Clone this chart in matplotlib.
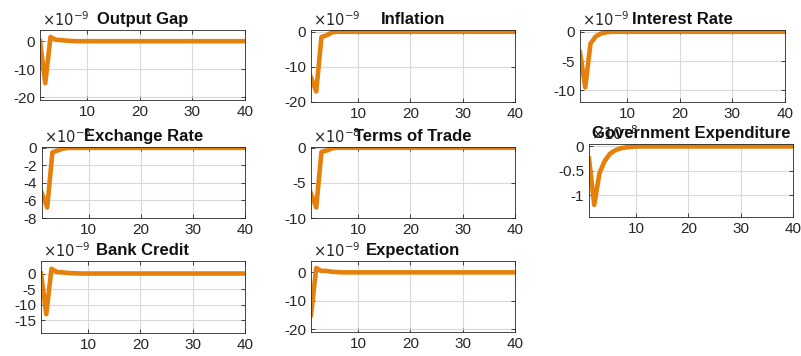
import numpy as np
import matplotlib.pyplot as plt

plt.rcParams['font.family'] = ['Liberation Sans', 'DejaVu Sans']
plt.rcParams['axes.unicode_minus'] = False

periods = np.arange(1, 41)

titles = ['Output Gap', 'Inflation', 'Interest Rate', 'Exchange Rate', 'Terms of Trade',
          'Government Expenditure', 'Bank Credit', 'Expectation']

# first periods of each response (in units of the exponent), rest are zero
output_gap = [0, -15, 1.5, 0.5, 0.4, 0.2, 0.1]
inflation = [-13, -17, -1.5, -1.0, -0.2]
interest_rate = [-3.5, -9.5, -2.0, -0.8, -0.3, -0.1]
exchange_rate = [-5.2, -6.8, -0.5, -0.3, -0.1]
terms_of_trade = [-6.5, -8.5, -0.6, -0.4, -0.1]
gov_expenditure = [-0.25, -1.2, -0.55, -0.3, -0.15, -0.08, -0.04, -0.02, -0.01]
bank_credit = [0, -13, 1.5, 0.5, 0.4, 0.2, 0.1, 0.05]
expectation = [-15, 1.5, 0.5, 0.5, 0.2, 0.1]

responses = [output_gap, inflation, interest_rate, exchange_rate, terms_of_trade,
             gov_expenditure, bank_credit, expectation]
exponents = [-9, -9, -9, -8, -8, -8, -9, -9]
ylims = [(-21, 4), (-20, 0.5), (-12, 0.3), (-8, 0.1), (-10, 0.1), (-1.45, 0.05), (-19, 4), (-21, 4)]
yticks = [[-20, -10, 0], [-20, -10, 0], [-10, -5, 0], [-8, -6, -4, -2, 0], [-10, -5, 0],
          [-1, -0.5, 0], [-15, -10, -5, 0], [-20, -10, 0]]
ytick_labels = [['-20', '-10', '0'], ['-20', '-10', '0'], ['-10', '-5', '0'],
                ['-8', '-6', '-4', '-2', '0'], ['-10', '-5', '0'], ['-1', '-0.5', '0'],
                ['-15', '-10', '-5', '0'], ['-20', '-10', '0']]

# axes boxes in pixels: left, top, right, bottom
boxes = [(40, 30, 245, 100), (311, 30, 515, 102), (580, 30, 785, 102),
         (42, 147, 245, 218), (311, 147, 515, 218), (589, 144, 793, 217),
         (41, 261, 245, 333), (311, 261, 515, 332)]

W, H = 801, 356
fig = plt.figure(figsize=(W / 100, H / 100), dpi=100)
color = '#E5800A'
dark = '#262626'

for i in range(8):
    l, t, r, b = boxes[i]
    ax = fig.add_axes([l / W, 1 - b / H, (r - l) / W, (b - t) / H])
    vals = np.zeros(len(periods))
    vals[:len(responses[i])] = responses[i]
    ax.plot(periods, vals, color=color, lw=3.3, solid_joinstyle='round')
    ax.set_xlim(1, 40)
    ax.set_ylim(ylims[i])
    ax.set_xticks([10, 20, 30, 40])
    ax.set_yticks(yticks[i])
    ax.set_yticklabels(ytick_labels[i])
    ax.grid(True, color='#DADADA', lw=0.8)
    ax.tick_params(direction='in', length=3, labelsize=11, colors=dark, width=0.6,
                   top=True, right=True)
    for s in ax.spines.values():
        s.set_color(dark)
        s.set_linewidth(0.6)
    ax.text(0.01, 1.015, r'$\times10^{%d}$' % exponents[i], transform=ax.transAxes,
            fontsize=10.5, color=dark, ha='left', va='bottom')
    ax.set_title(titles[i], fontsize=12, fontweight='bold', pad=4, color='#111111')

fig.savefig('out.png', dpi=100)
